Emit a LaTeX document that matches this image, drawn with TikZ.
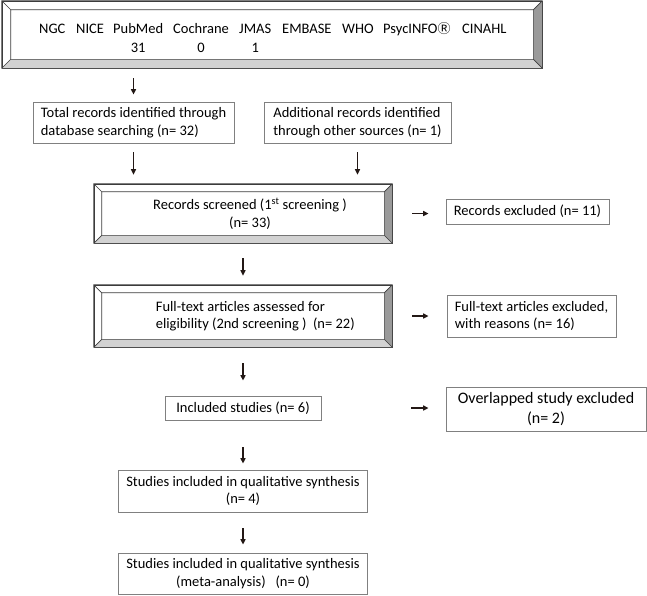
\documentclass[tikz,border=0pt]{standalone}
\usepackage{fontspec}
\setmainfont{Carlito}
\newfontfamily\symfont{Noto Sans CJK JP}
\usetikzlibrary{positioning,arrows.meta}
\definecolor{arrowc}{HTML}{231815}
\definecolor{boxline}{HTML}{808080}
\definecolor{bevbot}{HTML}{D2D2D2}
\definecolor{bevright}{HTML}{9A9A9A}
\definecolor{bevline}{HTML}{3C3C3C}
% bevelled frame round a named node
\newcommand{\bevel}[2][8]{%
  \fill[bevbot] (#2.south west) -- (#2.south east) -- ([shift={(-#1,-#1)}]#2.south east) -- ([shift={(#1,-#1)}]#2.south west) -- cycle;
  \fill[bevright] (#2.north east) -- (#2.south east) -- ([shift={(-#1,-#1)}]#2.south east) -- ([shift={(-#1,#1)}]#2.north east) -- cycle;
  \draw[bevline,line width=0.7pt] (#2.north west) rectangle (#2.south east)
    ([shift={(#1,#1)}]#2.north west) rectangle ([shift={(-#1,-#1)}]#2.south east)
    (#2.north west) -- ++(#1,#1) (#2.north east) -- ++(-#1,#1)
    (#2.south west) -- ++(#1,-#1) (#2.south east) -- ++(-#1,-#1);}
\begin{document}
\begin{tikzpicture}[x=1pt,y=-1pt,
    every node/.style={font=\fontsize{14.5}{17.5}\selectfont},
    plainbox/.style={draw=boxline,line width=0.8pt,align=left,inner xsep=6pt},
    framebox/.style={draw=bevline,line width=0.7pt,fill=white,inner sep=0pt},
    dbname/.style={inner sep=0pt,anchor=base west},
    arr/.style={-{Triangle[length=5.5pt,width=5pt]},line width=1.4pt,arrowc}]

    \useasboundingbox (0,0) rectangle (647,595);

    % databases
    \node[framebox,minimum width=540pt,minimum height=67pt] (db) at (272,34.5) {};
    \bevel[9]{db}
    \foreach \nm/\xx [count=\i] in {NGC/39,NICE/76,PubMed/113,Cochrane/173,JMAS/239,EMBASE/282,WHO/342,PsycINFO{\symfont\fontsize{13}{15}\selectfont Ⓡ}/383,CINAHL/462}
        \node[dbname] (db\i) at (\xx,33.7) {\nm};
    \node[dbname,anchor=base] (num3) at ([yshift=-19pt]db3.base) {31};
    \node[dbname,anchor=base] (num4) at ([yshift=-19pt]db4.base) {0};
    \node[dbname,anchor=base] (num5) at ([yshift=-19pt]db5.base) {1};

    % identification
    \node[plainbox,minimum width=201pt,minimum height=41pt] (tot) at (133.5,122.5) {Total records identified through\\database searching (n= 32)};
    \node[plainbox,minimum width=187pt,minimum height=41pt] (add) at (357.5,122.5) {Additional records identified\\through other sources (n= 1)};

    % screening
    \node[framebox,minimum width=298pt,minimum height=59pt] (scr) at (243,213.5) {};
    \bevel{scr}
    \node[align=center,inner sep=0pt] (scrt) at ([xshift=7pt]scr.center) {Records screened (1\textsuperscript{st} screening )\\(n= 33)};
    \node[plainbox,minimum width=163pt,minimum height=25pt] (rex) at (527.5,211.5) {Records excluded (n= 11)};

    \node[framebox,minimum width=298pt,minimum height=62pt] (full) at (243,316) {};
    \bevel{full}
    \node[align=left,inner sep=0pt,anchor=west] (fullt) at ([xshift=62pt]full.west) {Full-text articles assessed for\\eligibility (2nd screening )\ \ (n= 22)};
    \node[plainbox,minimum width=169pt,minimum height=42pt] (fex) at (531.5,316) {Full-text articles excluded,\\with reasons (n= 16)};

    % included
    \node[plainbox,minimum width=156pt,minimum height=24pt] (inc) at (243,408) {Included studies (n= 6)};
    \node[plainbox,align=center,minimum width=200pt,minimum height=44pt,font=\fontsize{16}{19.5}\selectfont] (ovl) at (546,409) {Overlapped study excluded\\(n= 2)};
    \node[plainbox,align=center,minimum width=249pt,minimum height=42pt] (qual) at (243,491) {Studies included in qualitative synthesis\\(n= 4)};
    \node[plainbox,align=center,minimum width=249pt,minimum height=41pt] (meta) at (243,573.5) {Studies included in qualitative synthesis\\(meta-analysis)\ \ \ (n= 0)};

    \draw[arr,shorten <=10pt,shorten >=7pt] (db.south -| tot.north) -- (tot.north);
    \draw[arr,shorten <=9pt,shorten >=9pt] (tot.south) -- (tot.south |- scr.north);
    \draw[arr,shorten <=9pt,shorten >=9pt] (add.south) -- (add.south |- scr.north);
    \draw[arr,shorten <=15pt,shorten >=9pt] (scr) -- (full);
    \draw[arr,shorten <=16pt,shorten >=15pt] (full) -- (inc);
    \draw[arr,shorten <=27pt,shorten >=6pt] (inc) -- (qual);
    \draw[arr,shorten <=16pt,shorten >=8pt] (qual) -- (meta);

    \draw[arr,shorten <=20pt,shorten >=17pt] (scr.east) -- (scr.east -| rex.west);
    \draw[arr,shorten <=20pt,shorten >=18pt] (full.east) -- (full.east -| fex.west);
    \draw[arr,shorten <=90pt,shorten >=17pt] (inc.east) -- (inc.east -| ovl.west);
\end{tikzpicture}
\end{document}
